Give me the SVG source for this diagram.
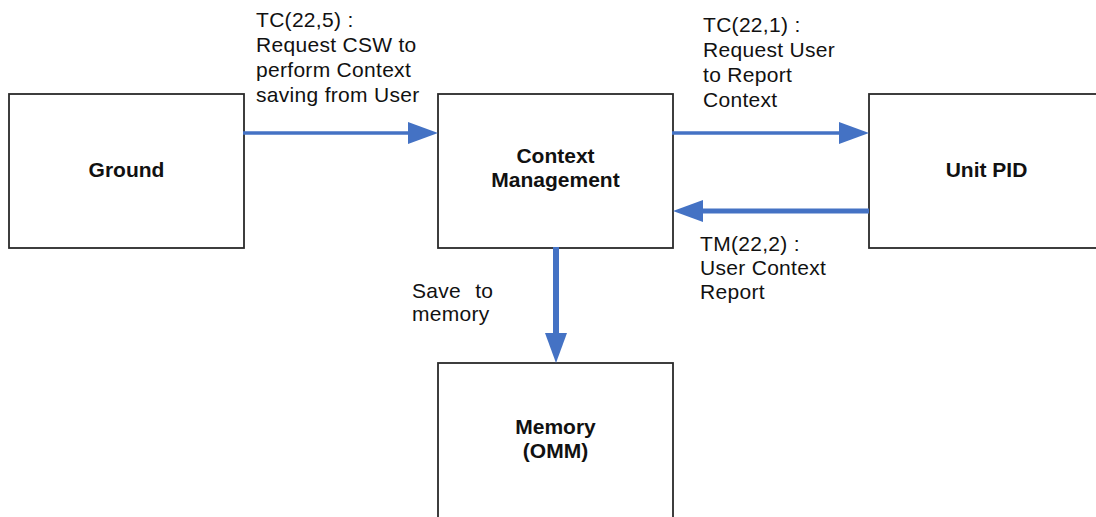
<svg xmlns="http://www.w3.org/2000/svg" width="1096" height="517" viewBox="0 0 1096 517">
  <style>
    .box { fill: #ffffff; stroke: #2a2a2a; stroke-width: 1.8; }
    .title { font-family: "Liberation Sans", Arial, Helvetica, sans-serif; font-size: 21px; font-weight: bold; fill: #111111; text-anchor: middle; }
    .note { font-family: "Liberation Sans", Arial, Helvetica, sans-serif; font-size: 21px; fill: #111111; letter-spacing: 0.3px; }
    .link { stroke: #4472c4; fill: none; stroke-linecap: butt; }
  </style>
  <defs>
    <marker id="head" viewBox="0 0 30 22" markerUnits="userSpaceOnUse" markerWidth="30" markerHeight="22" refX="2" refY="11" orient="auto">
      <path d="M0,0 L30,11 L0,22 Z" fill="#4472c4"/>
    </marker>
  </defs>
  <rect width="1096" height="517" fill="#ffffff"/>

  <g id="ground">
    <rect class="box" x="9" y="94" width="235" height="154"/>
    <text class="title" x="126.5" y="177">Ground</text>
  </g>

  <g id="context-management">
    <rect class="box" x="438" y="94" width="235" height="154"/>
    <text class="title" x="555.5" y="163">Context</text>
    <text class="title" x="555.5" y="187">Management</text>
  </g>

  <g id="unit-pid">
    <rect class="box" x="869" y="94" width="235" height="154"/>
    <text class="title" x="986.5" y="177">Unit PID</text>
  </g>

  <g id="memory">
    <rect class="box" x="438" y="363" width="235" height="170"/>
    <text class="title" x="555.5" y="434">Memory</text>
    <text class="title" x="555.5" y="458">(OMM)</text>
  </g>

  <g id="connectors">
    <line class="link" x1="243" y1="133" x2="410" y2="133" stroke-width="3.5" marker-end="url(#head)"/>
    <line class="link" x1="672" y1="133" x2="841" y2="133" stroke-width="3.5" marker-end="url(#head)"/>
    <line class="link" x1="869" y1="211" x2="701" y2="211" stroke-width="5" marker-end="url(#head)"/>
    <line class="link" x1="556" y1="247" x2="556" y2="335" stroke-width="6" marker-end="url(#head)"/>
  </g>

  <g id="labels">
    <text class="note" x="256" y="27">TC(22,5) :</text>
    <text class="note" x="256" y="52">Request CSW to</text>
    <text class="note" x="256" y="77">perform Context</text>
    <text class="note" x="256" y="102">saving from User</text>

    <text class="note" x="703" y="32">TC(22,1) :</text>
    <text class="note" x="703" y="57">Request User</text>
    <text class="note" x="703" y="82">to Report</text>
    <text class="note" x="703" y="107">Context</text>

    <text class="note" x="700" y="251">TM(22,2) :</text>
    <text class="note" x="700" y="275">User Context</text>
    <text class="note" x="700" y="299">Report</text>

    <text class="note" x="412" y="298" word-spacing="8">Save to</text>
    <text class="note" x="412" y="321">memory</text>
  </g>
</svg>
